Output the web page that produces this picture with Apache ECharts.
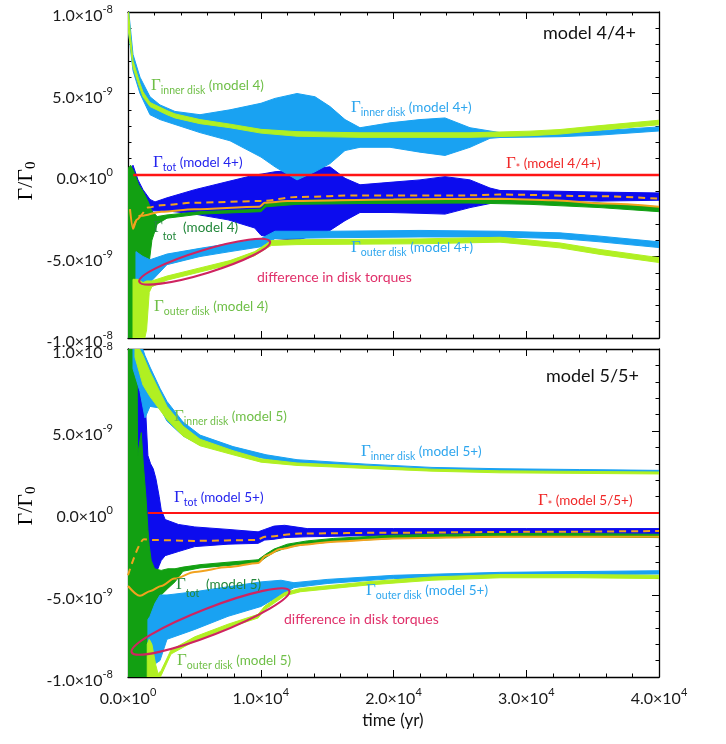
<!DOCTYPE html>
<html><head><meta charset="utf-8">
<script src="https://cdn.jsdelivr.net/npm/echarts@6/dist/echarts.min.js"></script>
<style>html,body{margin:0;padding:0;background:#fff}#c{width:726px;height:744px}</style>
</head><body><div id="c"></div>
<script>
// values in units of 1e-9 Gamma_0 ; time in yr
// bands: [t, lower, upper]
const X_TICKS = [[0,'0.0','0'],[10000,'1.0','4'],[20000,'2.0','4'],[30000,'3.0','4'],[40000,'4.0','4']];
const Y_TICKS = [[10,'1.0','-8'],[5,'5.0','-9'],[0,'0.0','0'],[-5,'-5.0','-9'],[-10,'-1.0','-8']];

// ---------- model 4 / 4+ ----------
const m4pInner = [[0,9.0,10.5],[377,6.4,7.4],[904,5.0,6.0],[1657,3.7,4.8],[2410,3.4,4.3],[3540,3.1,3.9],[5424,2.6,3.7],[7684,2.1,4.0],[10019,1.1,4.4],[11074,0.5,4.7],[12731,-0.3,5.0],[14087,0.2,4.8],[15217,0.7,4.2],[16347,1.5,3.4],[17477,1.7,2.9],[19737,1.7,3.2],[21996,1.4,3.4],[23880,1.2,3.5],[25763,1.7,2.9],[27270,2.25,2.7],[28023,2.3,2.6],[32543,2.35,2.62],[35556,2.45,2.72],[40000,2.7,2.95]];
const m4Inner = [[0,9.0,10.5],[200,7.8,8.4],[377,6.6,7.0],[904,5.3,5.6],[1130,4.8,5.1],[1657,4.2,4.45],[2938,3.7,3.95],[3540,3.5,3.75],[5424,3.15,3.4],[7684,2.9,3.12],[10019,2.57,2.8],[12731,2.38,2.66],[17477,2.31,2.59],[25763,2.31,2.59],[30283,2.41,2.69],[32543,2.51,2.79],[35556,2.75,3.03],[40000,3.08,3.36]];
const m4pTot = [[0,-3.0,-1.0],[150,-3.0,0.3],[377,-2.5,0.6],[753,-2.3,-0.3],[1130,-2.3,-0.9],[1657,-2.2,-1.5],[2034,-2.2,-1.65],[2938,-2.2,-1.4],[5030,-2.4,-0.9],[7534,-2.75,-0.4],[9542,-3.25,0.0],[10019,-3.7,0.05],[11074,-3.9,0.2],[12731,-4.0,0.3],[15217,-3.4,0.5],[16347,-2.8,-0.2],[17477,-2.3,-0.6],[19737,-2.3,-0.45],[21996,-2.35,-0.3],[23880,-2.4,-0.1],[25763,-2.0,-0.3],[27270,-1.75,-0.8],[28023,-1.65,-0.95],[32543,-1.55,-1.0],[35556,-1.6,-1.05],[40000,-1.55,-1.1]];
const m4Tot = [[0,-10.5,0.4],[200,-10.5,0.6],[450,-10.5,0.2],[800,-10.5,-0.6],[1130,-9,-1.0],[1500,-6,-1.6],[1800,-4,-2.2],[2200,-3.0,-2.55],[2938,-2.65,-2.45],[5424,-2.4,-2.25],[10019,-2.25,-2.1],[10400,-1.95,-1.75],[12731,-1.8,-1.55],[17477,-1.75,-1.5],[25763,-1.72,-1.45],[30283,-1.8,-1.52],[35556,-2.0,-1.72],[40000,-2.25,-1.95]];
const m4pOuter = [[600,-6.4,-4.7],[1130,-6.7,-5.0],[1657,-6.6,-5.2],[2938,-5.5,-4.85],[5424,-5.0,-4.5],[7684,-4.7,-4.2],[10019,-4.4,-3.9],[11074,-3.9,-3.45],[15217,-3.85,-3.45],[21996,-3.8,-3.4],[28023,-3.8,-3.45],[32543,-3.9,-3.55],[35556,-4.1,-3.75],[40000,-4.45,-4.1]];
const m4Outer = [[377,-10.5,-6.4],[753,-10.5,-6.4],[1130,-10.5,-6.6],[1400,-9.5,-6.5],[1600,-7.2,-6.5],[1800,-6.85,-6.5],[2938,-6.45,-6.2],[5424,-5.95,-5.7],[7684,-5.5,-5.25],[9542,-4.95,-4.7],[10019,-4.7,-4.45],[10800,-4.32,-4.02],[12731,-4.27,-3.97],[21996,-4.22,-3.92],[28023,-4.12,-3.82],[32543,-4.47,-4.17],[35556,-4.87,-4.57],[40000,-5.37,-5.07]];
const m4TotSmooth = [[150,-2.1],[377,-3.3],[650,-2.75],[1000,-2.5],[2500,-2.25],[5000,-2.1],[9900,-1.95],[10300,-1.7],[12000,-1.6],[20000,-1.5],[28000,-1.45],[32000,-1.55],[36000,-1.75],[40000,-1.95]];
const m4pTotSmooth = [[377,-3.2],[900,-2.5],[1500,-2.0],[2500,-1.85],[5000,-1.7],[10000,-1.6],[12700,-1.35],[17500,-1.25],[25500,-1.25],[28000,-1.2],[35500,-1.3],[40000,-1.45]];
const m4Star = [[400,0],[40000,0]];
const m4Ellipse = {from:[851,-6.55], to:[10697,-4.09]};

// ---------- model 5 / 5+ ----------
const m5Tot = [[0,-10.5,10.5],[680,-10.5,10.5],[720,-10.5,3.5],[1000,-10.5,4.9],[1150,-10.5,3.0],[1350,-10.5,1.0],[1500,-10.5,-1.0],[1600,-9.5,-2.0],[1750,-7,-2.9],[2000,-5.6,-3.4],[2500,-5.0,-3.5],[3000,-4.6,-3.4],[3540,-4.2,-3.4],[4143,-3.55,-3.3],[5424,-3.35,-3.15],[7534,-3.2,-3.0],[9800,-3.05,-2.85],[10400,-2.7,-2.5],[11000,-2.4,-2.2],[12000,-2.1,-1.9],[13500,-1.9,-1.7],[15500,-1.75,-1.55],[20000,-1.55,-1.35],[28000,-1.45,-1.25],[34000,-1.45,-1.25],[40000,-1.5,-1.3]];
const m5pTot = [[300,-8,10.5],[900,-8,10],[1250,-7,7.5],[1500,-5.5,3.5],[1700,-4.5,3.0],[1900,-4.2,2.7],[2100,-3.7,2.1],[2350,-3.2,1.0],[2500,-2.9,0.2],[2800,-2.6,-0.4],[3800,-2.35,-0.7],[5030,-2.05,-0.85],[7534,-1.9,-1.0],[9800,-1.85,-1.15],[10300,-1.65,-1.0],[11000,-1.6,-0.8],[11800,-1.5,-0.75],[13500,-1.45,-0.95],[20000,-1.35,-0.95],[30000,-1.3,-0.95],[40000,-1.25,-0.95]];
const m5pInner = [[377,8.8,10.5],[904,7.4,10.5],[1280,5.8,9.6],[1657,6.5,8.9],[2410,6.4,7.6],[2938,5.6,6.8],[4143,4.7,5.55],[5424,4.15,4.75],[7911,3.7,4.05],[10400,3.3,3.55],[12731,3.0,3.25],[17930,2.8,2.98],[22900,2.6,2.78],[28023,2.55,2.7],[34000,2.5,2.65],[40000,2.5,2.6]];
const m5Inner = [[527,9.5,10.5],[1130,7.8,9.6],[1657,7.1,8.6],[2938,5.7,6.5],[4143,4.7,5.3],[5424,4.1,4.5],[7911,3.55,3.8],[10019,3.1,3.3],[12731,2.9,3.05],[17930,2.72,2.86],[22900,2.55,2.67],[28023,2.45,2.57],[40000,2.38,2.5]];
const m5pOuter = [[1500,-9.0,-6.5],[1657,-9.0,-6.3],[2034,-9.2,-5.5],[2410,-9.0,-5.0],[2938,-7.7,-5.0],[5030,-7.1,-4.8],[7534,-6.3,-4.5],[10019,-5.7,-4.2],[11530,-5.0,-4.1],[12500,-4.55,-4.25],[15000,-4.3,-4.05],[20000,-4.0,-3.8],[28000,-3.82,-3.62],[40000,-3.72,-3.52]];
const m5Outer = [[1450,-10.5,-8.0],[1600,-10.5,-7.7],[1800,-10.5,-8.0],[2100,-10.5,-9.3],[2260,-10.3,-9.8],[2500,-9.9,-9.6],[3240,-8.6,-8.35],[5030,-7.8,-7.55],[7534,-7.0,-6.78],[9800,-6.4,-6.18],[10300,-5.9,-5.68],[11000,-5.5,-5.28],[11800,-5.05,-4.85],[13000,-4.8,-4.6],[17930,-4.4,-4.2],[22900,-4.1,-3.9],[28023,-3.95,-3.75],[34000,-3.95,-3.75],[40000,-4.0,-3.8]];
const m5TotSmooth = [[0,-4.45],[900,-5.05],[1700,-4.75],[2500,-4.45],[3500,-4.0],[5030,-3.6],[7534,-3.3],[9800,-3.05],[10400,-2.6],[11500,-2.2],[13000,-1.95],[15500,-1.75],[20000,-1.55],[28000,-1.45],[40000,-1.45]];
const m5pTotSmooth = [[0,-3.8],[1200,-1.6],[2000,-1.65],[5000,-1.7],[9700,-1.65],[10300,-1.45],[13000,-1.25],[20000,-1.2],[30000,-1.15],[40000,-1.1]];
const m5Star = [[1500,0],[40000,0]];
const m5Ellipse = {from:[276,-8.49], to:[12152,-4.74]};

// ---------- styling ----------
const LB='#19a2f2', DB='#0c0cee', GR='#12a012', YG='#b0f022', OR='#f2a21e', RD='#ff1414', EL='#cf2460';
const SANS='Lato';

function band(data, color, xi, yi){
  return {type:'custom', xAxisIndex:xi, yAxisIndex:yi, clip:true, silent:true,
    data:[[data[0][0], data[0][1]]], encode:{x:0,y:1},
    renderItem(params, api){
      const pts=[];
      for (const d of data) pts.push(api.coord([d[0], d[2]]));
      for (let i=data.length-1;i>=0;i--) pts.push(api.coord([data[i][0], data[i][1]]));
      return {type:'polygon', shape:{points:pts}, style:{fill:color, stroke:color, lineWidth:1, lineJoin:'round'}};
    }};
}
function line(data, color, width, xi, yi, dashed){
  return {type:'line', xAxisIndex:xi, yAxisIndex:yi, data, symbol:'none', smooth:0.3, smoothMonotone:'x', clip:true, silent:true,
    lineStyle:{color, width, type: dashed ? [7,5] : 'solid'}};
}
function ellipse(e, ry, xi, yi){
  return {type:'custom', xAxisIndex:xi, yAxisIndex:yi, clip:false, silent:true, z:5,
    data:[[e.from[0], e.from[1]]], encode:{x:0,y:1},
    renderItem(params, api){
      const a=api.coord(e.from), b=api.coord(e.to);
      const cx=(a[0]+b[0])/2, cy=(a[1]+b[1])/2;
      const rx=Math.hypot(b[0]-a[0], b[1]-a[1])/2;
      const ang=Math.atan2(b[1]-a[1], b[0]-a[0]);
      return {type:'ellipse', x:cx, y:cy, rotation:-ang, shape:{cx:0, cy:0, rx, ry}, style:{fill:'none', stroke:EL, lineWidth:2.2}};
    }};
}

function tickText(list, v){
  const t=list.find(k=>Math.abs(k[0]-v)<1e-6);
  return t ? '{m|'+t[1]+'×10}{s|'+t[2]+'}' : '';
}
const labelRich = {m:{fontFamily:SANS, fontSize:16, color:'#1a1a1a'}, s:{fontFamily:SANS, fontSize:11, color:'#1a1a1a', padding:[0,0,13,0]}};

const common = {type:'value', axisLine:{show:true,onZero:false,lineStyle:{color:'#000',width:1.3}},
  axisTick:{show:true,inside:true,length:7,lineStyle:{color:'#000',width:1}},
  minorTick:{show:true,splitNumber:5,length:3.5,lineStyle:{color:'#000',width:1}},
  splitLine:{show:false}, minorSplitLine:{show:false}};

function xAxes(gi, labels){
  return [
    Object.assign({}, common, {gridIndex:gi, position:'bottom', min:0, max:40000, interval:10000,
      axisLabel: labels ? {show:true, margin:10, showMinLabel:true, showMaxLabel:true, formatter:v=>tickText(X_TICKS,v), rich:labelRich} : {show:false}}),
    Object.assign({}, common, {gridIndex:gi, position:'top', min:0, max:40000, interval:10000, axisLabel:{show:false}})
  ];
}
function yAxes(gi){
  return [
    Object.assign({}, common, {gridIndex:gi, position:'left', min:-10, max:10, interval:5,
      axisLabel:{show:true, margin:15, showMinLabel:true, showMaxLabel:true, formatter:v=>tickText(Y_TICKS,v), rich:labelRich, padding:[8,0,0,0]}}),
    Object.assign({}, common, {gridIndex:gi, position:'right', min:-10, max:10, interval:5, axisLabel:{show:false}})
  ];
}

const ANN_RICH = {
  g:{fontFamily:'Liberation Serif', fontSize:17},
  s:{fontFamily:SANS, fontSize:10.5, padding:[9,0,0,0]},
  t:{fontFamily:SANS, fontSize:10.5, padding:[17,0,0,0]},
  r:{fontFamily:SANS, fontSize:13.5}
};
const C_LG='#6fbf47', C_LB='#2ea6ee', C_B='#2424ee', C_DG='#22873a', C_R='#f02828', C_CR='#e0306a';
const ANNOTS = [
  [151,86,'{g|Γ}{s|inner disk}{r| (model 4)}',C_LG],
  [351,108,'{g|Γ}{s|inner disk}{r| (model 4+)}',C_LB],
  [153,163,'{g|Γ}{s|tot}{r| (model 4+)}',C_B],
  [506,164,'{g|Γ}{s|*}{r| (model 4/4+)}',C_R],
  [153,228,'{g|Γ}{t|tot}{r|  (model 4)}',C_DG],
  [351,248,'{g|Γ}{s|outer disk}{r| (model 4+)}',C_LB],
  [154,307,'{g|Γ}{s|outer disk}{r| (model 4)}',C_LG],
  [174,417,'{g|Γ}{s|inner disk}{r| (model 5)}',C_LG],
  [361,452,'{g|Γ}{s|inner disk}{r| (model 5+)}',C_LB],
  [174,498,'{g|Γ}{s|tot}{r| (model 5+)}',C_B],
  [538,501,'{g|Γ}{s|*}{r| (model 5/5+)}',C_R],
  [176,585,'{g|Γ}{t|tot}{r|  (model 5)}',C_DG],
  [366,591,'{g|Γ}{s|outer disk}{r| (model 5+)}',C_LB],
  [177,661,'{g|Γ}{s|outer disk}{r| (model 5)}',C_LG]
];
const graphics = ANNOTS.map(a=>({type:'text', x:a[0], y:a[1], z:10, silent:true,
  style:{text:a[2], rich:ANN_RICH, fill:a[3], align:'left', verticalAlign:'middle'}}));
graphics.push(
  {type:'text', x:257, y:277, z:10, style:{text:'difference in disk torques', fontFamily:SANS, fontSize:14, fill:C_CR, verticalAlign:'middle'}},
  {type:'text', x:284, y:619, z:10, style:{text:'difference in disk torques', fontFamily:SANS, fontSize:14, fill:C_CR, verticalAlign:'middle'}},
  {type:'text', x:543, y:33, z:10, style:{text:'model 4/4+', fontFamily:SANS, fontSize:18, fill:'#111', verticalAlign:'middle'}},
  {type:'text', x:546, y:376, z:10, style:{text:'model 5/5+', fontFamily:SANS, fontSize:18, fill:'#111', verticalAlign:'middle'}},
  {type:'text', x:393, y:721, z:10, style:{text:'time (yr)', fontFamily:SANS, fontSize:17, fill:'#111', align:'center', verticalAlign:'middle'}}
);
const YNAME_RICH = {g:{fontFamily:'Liberation Serif', fontSize:22, color:'#111'}, s:{fontFamily:'Liberation Serif', fontSize:15, color:'#111', padding:[11,0,0,0]}};
[181, 506].forEach(y=>graphics.push({type:'text', x:26, y, rotation:Math.PI/2, z:10,
  style:{text:'{g|Γ/Γ}{s|0}', rich:YNAME_RICH, align:'center', verticalAlign:'middle'}}));

const series = [
  // model 4/4+ (axes 0)
  band(m4pTot, DB, 0, 0),
  band(m4Tot, GR, 0, 0),
  band(m4pInner, LB, 0, 0),
  band(m4pOuter, LB, 0, 0),
  band(m4Inner, YG, 0, 0),
  band(m4Outer, YG, 0, 0),
  line(m4TotSmooth, OR, 2, 0, 0, false),
  line(m4pTotSmooth, OR, 2, 0, 0, true),
  line(m4Star, RD, 2.5, 0, 0, false),
  ellipse(m4Ellipse, 11.5, 0, 0),
  // model 5/5+ (axes 2)
  band(m5pTot, DB, 2, 2),
  band(m5Tot, GR, 2, 2),
  band(m5pInner, LB, 2, 2),
  band(m5pOuter, LB, 2, 2),
  band(m5Inner, YG, 2, 2),
  band(m5Outer, YG, 2, 2),
  line(m5TotSmooth, OR, 2, 2, 2, false),
  line(m5pTotSmooth, OR, 2, 2, 2, true),
  line(m5Star, RD, 2, 2, 2, false),
  ellipse(m5Ellipse, 13.5, 2, 2)
];

const chart = echarts.init(document.getElementById('c'));
chart.setOption({
  animation:false,
  backgroundColor:'#fff',
  grid:[{left:128, top:12, width:531, height:326}, {left:128, top:349, width:531, height:328}],
  xAxis:[...xAxes(0,false), ...xAxes(1,true)],
  yAxis:[...yAxes(0), ...yAxes(1)],
  series,
  graphic:graphics
});
</script></body></html>
